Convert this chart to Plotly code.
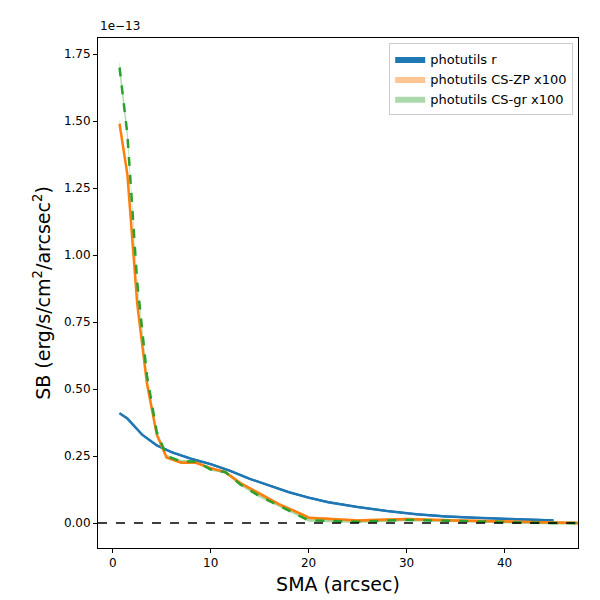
import plotly.graph_objects as go
import numpy as np

# surface brightness in units of 1e-13 erg/s/cm^2/arcsec^2
sma_r = [0.7, 1.5, 3, 4.5, 6, 8, 10, 12, 14, 16, 18, 20, 22, 25, 28, 31, 34, 37, 40, 43, 45]
sb_r = [0.41, 0.39, 0.33, 0.29, 0.265, 0.24, 0.22, 0.195, 0.165, 0.14, 0.115, 0.095, 0.078,
        0.06, 0.045, 0.033, 0.025, 0.02, 0.015, 0.012, 0.01]
err_r = [0.004] * len(sma_r)

sma_cs = [0.7, 1.5, 2.5, 3.5, 4.5, 5.5, 7, 8.5, 10, 11.5, 13, 15, 17, 19.5, 20, 25, 30, 35, 40, 45, 47.5]
sb_zp = [1.49, 1.3, 0.82, 0.52, 0.33, 0.245, 0.225, 0.225, 0.205, 0.19, 0.15, 0.11, 0.07,
         0.03, 0.02, 0.01, 0.015, 0.01, 0.005, 0.002, 0.0]
err_zp = [0.02, 0.015, 0.01, 0.008, 0.006, 0.005, 0.005, 0.005, 0.005, 0.005, 0.005, 0.005,
          0.005, 0.005, 0.005, 0.005, 0.005, 0.005, 0.005, 0.005, 0.005]
sb_gr = [1.70, 1.45, 0.9, 0.55, 0.34, 0.25, 0.23, 0.23, 0.2, 0.19, 0.145, 0.1, 0.065,
         0.02, 0.01, 0.005, 0.012, 0.008, 0.003, 0.0, 0.0]
err_gr = [0.025, 0.02, 0.012, 0.008, 0.006, 0.005, 0.005, 0.005, 0.005, 0.005, 0.005, 0.005,
          0.005, 0.005, 0.005, 0.005, 0.005, 0.005, 0.005, 0.005, 0.005]


def band(x, y, e, color, name):
    x = np.array(x); y = np.array(y); e = np.array(e)
    return go.Scatter(x=np.concatenate([x, x[::-1]]), y=np.concatenate([y + e, (y - e)[::-1]]),
                      fill="toself", fillcolor=color, line=dict(width=0), mode="lines",
                      name=name, hoverinfo="skip")


fig = go.Figure()
fig.add_trace(band(sma_r, sb_r, err_r, "#1f77b4", "photutils r"))
fig.add_trace(band(sma_cs, sb_zp, err_zp, "rgba(255,127,14,0.45)", "photutils CS-ZP x100"))
fig.add_trace(band(sma_cs, sb_gr, err_gr, "rgba(44,160,44,0.4)", "photutils CS-gr x100"))
fig.add_trace(go.Scatter(x=sma_r, y=sb_r, mode="lines", line=dict(color="#1f77b4", width=2.5), showlegend=False))
fig.add_trace(go.Scatter(x=sma_cs, y=sb_zp, mode="lines", line=dict(color="#ff7f0e", width=2.5), showlegend=False))
fig.add_trace(go.Scatter(x=sma_cs, y=sb_gr, mode="lines", line=dict(color="#2ca02c", width=2.5, dash="dash"), showlegend=False))
fig.add_hline(y=0, line=dict(color="black", width=1.5, dash="dash"))

axis = dict(showline=True, mirror=True, linecolor="black", linewidth=1, ticks="outside",
            tickcolor="black", ticklen=4, showgrid=False, zeroline=False, automargin=False,
            tickfont=dict(size=12, color="black"))
fig.update_layout(
    width=600, height=600, plot_bgcolor="white", paper_bgcolor="white",
    margin=dict(l=90, r=30, t=30, b=60),
    font=dict(family="DejaVu Sans", color="black"),
    xaxis=dict(axis, range=[-1.5, 47.5], tickvals=[0, 10, 20, 30, 40],
               title=dict(text="SMA (arcsec)", font=dict(size=19), standoff=8)),
    yaxis=dict(axis, range=[-0.093, 1.81], tickvals=[0, 0.25, 0.5, 0.75, 1.0, 1.25, 1.5, 1.75],
               tickformat=".2f",
               title=dict(text="SB (erg/s/cm<sup>2</sup>/arcsec<sup>2</sup>)", font=dict(size=19), standoff=8)),
    legend=dict(x=0.99, y=0.99, xanchor="right", yanchor="top", bordercolor="#cccccc",
                borderwidth=1, font=dict(size=13), bgcolor="rgba(255,255,255,0.8)"),
    annotations=[dict(text="1e\u221213", xref="paper", yref="paper", x=0, y=1.005,
                      xanchor="left", yanchor="bottom", showarrow=False, font=dict(size=12))],
)
fig.write_html("out.html")
